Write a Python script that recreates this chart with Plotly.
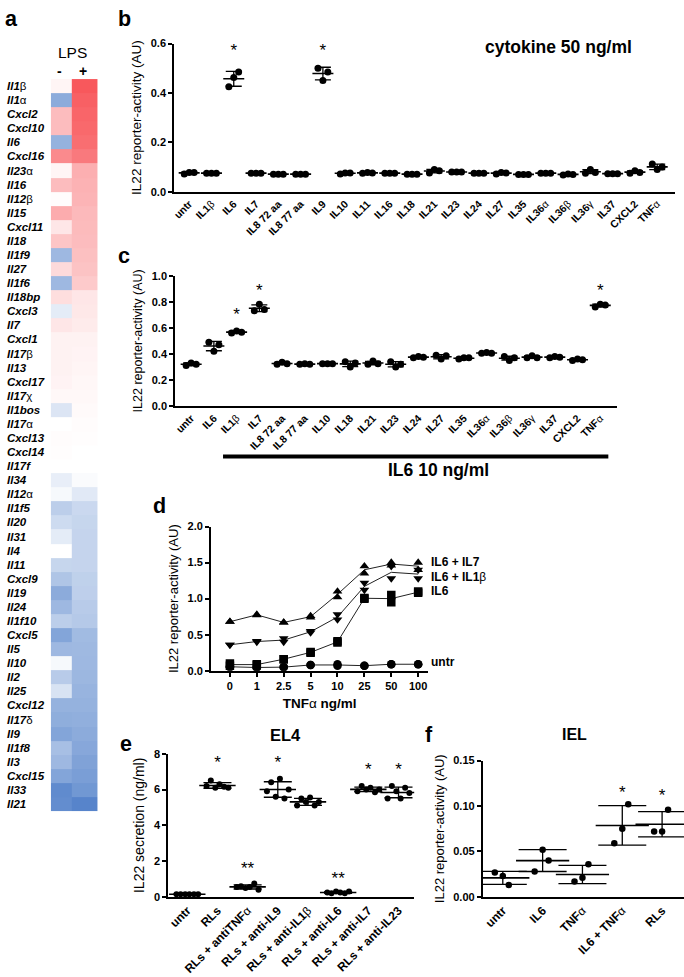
import numpy as np
import plotly.graph_objects as go

W, H = 684, 977
FONT = "Liberation Sans, Arial, sans-serif"

# ---------------- panel a : heatmap ----------------
genes = ["Il1β", "Il1α", "Cxcl2", "Cxcl10", "Il6", "Cxcl16", "Il23α", "Il16", "Il12β", "Il15",
         "Cxcl11", "Il18", "Il1f9", "Il27", "Il1f6", "Il18bp", "Cxcl3", "Il7", "Cxcl1", "Il17β",
         "Il13", "Cxcl17", "Il17χ", "Il1bos", "Il17α", "Cxcl13", "Cxcl14", "Il17f", "Il34", "Il12α",
         "Il1f5", "Il20", "Il31", "Il4", "Il11", "Cxcl9", "Il19", "Il24", "Il1f10", "Cxcl5",
         "Il5", "Il10", "Il2", "Il25", "Cxcl12", "Il17δ", "Il9", "Il1f8", "Il3", "Cxcl15",
         "Il33", "Il21"]
lps_minus = [0.06, -0.65, 0.40, 0.40, -0.60, 0.70, 0.06, 0.40, 0.02, 0.50,
             0.15, 0.35, -0.55, 0.22, -0.55, 0.20, -0.15, 0.15, 0.08, 0.08,
             0.08, 0.07, 0.04, -0.20, 0.00, 0.02, 0.01, 0.00, -0.13, -0.05,
             -0.38, -0.28, -0.15, 0.00, -0.32, -0.45, -0.65, -0.55, -0.38, -0.70,
             -0.55, -0.05, -0.40, -0.22, -0.60, -0.63, -0.70, -0.50, -0.55, -0.70,
             -0.90, -0.88]
lps_plus = [1.00, 0.95, 0.92, 0.90, 0.87, 0.80, 0.48, 0.46, 0.45, 0.42,
            0.41, 0.40, 0.38, 0.36, 0.32, 0.15, 0.14, 0.12, 0.08, 0.07,
            0.06, 0.05, 0.04, 0.03, 0.02, 0.01, 0.00, 0.00, -0.03, -0.17,
            -0.30, -0.32, -0.33, -0.33, -0.33, -0.36, -0.37, -0.40, -0.42, -0.53,
            -0.54, -0.55, -0.56, -0.58, -0.60, -0.62, -0.65, -0.68, -0.72, -0.75,
            -0.80, -0.95]
lps_cols = ["-", "+"]

# ---------------- panel b ----------------
b_cats = ["untr", "IL1β", "IL6", "IL7", "IL8 72 aa", "IL8 77 aa", "IL9", "IL10", "IL11", "IL16",
          "IL18", "IL21", "IL23", "IL24", "IL27", "IL35", "IL36α", "IL36β", "IL36γ", "IL37",
          "CXCL2", "TNFα"]
b_vals = [[0.072, 0.078, 0.078], [0.075, 0.075, 0.075], [0.425, 0.462, 0.485], [0.075, 0.075, 0.075],
          [0.071, 0.071, 0.071], [0.071, 0.071, 0.071], [0.500, 0.450, 0.485], [0.072, 0.076, 0.076],
          [0.075, 0.078, 0.076], [0.075, 0.075, 0.075], [0.071, 0.071, 0.071], [0.076, 0.090, 0.085],
          [0.080, 0.080, 0.080], [0.075, 0.075, 0.075], [0.072, 0.078, 0.076], [0.070, 0.070, 0.070],
          [0.075, 0.075, 0.075], [0.068, 0.072, 0.070], [0.075, 0.090, 0.078], [0.073, 0.073, 0.073],
          [0.075, 0.085, 0.078], [0.112, 0.090, 0.100]]
b_sig = ["IL6", "IL9"]
b_sig_y = [0.568, 0.568]

# ---------------- panel c ----------------
c_cats = ["untr", "IL6", "IL1β", "IL7", "IL8 72 aa", "IL8 77 aa", "IL10", "IL18", "IL21", "IL23",
          "IL24", "IL27", "IL35", "IL36α", "IL36β", "IL36γ", "IL37", "CXCL2", "TNFα"]
c_vals = [[0.31, 0.33, 0.32], [0.49, 0.42, 0.47], [0.56, 0.575, 0.565], [0.73, 0.78, 0.74],
          [0.32, 0.335, 0.325], [0.32, 0.325, 0.32], [0.325, 0.325, 0.325], [0.34, 0.30, 0.33],
          [0.32, 0.345, 0.325], [0.34, 0.30, 0.32], [0.37, 0.38, 0.375], [0.39, 0.36, 0.385],
          [0.36, 0.37, 0.37], [0.405, 0.41, 0.405], [0.38, 0.35, 0.37], [0.37, 0.385, 0.37],
          [0.37, 0.38, 0.375], [0.35, 0.36, 0.355], [0.76, 0.78, 0.775]]
c_sig = ["IL1β", "IL7", "TNFα"]
c_sig_y = [0.689, 0.879, 0.879]

# ---------------- panel d ----------------
d_x = ["0", "1", "2.5", "5", "10", "25", "50", "100"]
d_il7_r1 = [0.68, 0.78, 0.67, 0.76, 1.10, 1.45, 1.50, 1.50]
d_il7_r2 = [0.68, 0.77, 0.67, 0.74, 1.02, 1.35, 1.46, 1.40]
d_il1b_r1 = [0.36, 0.41, 0.45, 0.55, 0.78, 1.22, 1.45, 1.40]
d_il1b_r2 = [0.36, 0.40, 0.40, 0.53, 0.71, 1.12, 1.28, 1.28]
d_il6_r1 = [0.10, 0.09, 0.16, 0.26, 0.41, 1.01, 1.05, 1.10]
d_il6_r2 = [0.07, 0.08, 0.16, 0.25, 0.39, 1.00, 0.95, 1.08]
d_untr_r1 = [0.06, 0.05, 0.05, 0.08, 0.09, 0.07, 0.09, 0.09]
d_untr_r2 = [0.05, 0.04, 0.05, 0.08, 0.07, 0.07, 0.09, 0.09]

# ---------------- panel e ----------------
e_cats = ["untr", "RLs", "RLs + antiTNFα", "RLs + anti-IL9", "RLs + anti-IL1β",
          "RLs + anti-IL6", "RLs + anti-IL7", "RLs + anti-IL23"]
e_vals = [[0.15, 0.15, 0.15, 0.15, 0.15, 0.15],
          [6.2, 6.5, 6.1, 6.3, 6.15, 6.1],
          [0.55, 0.6, 0.5, 0.55, 0.75, 0.4],
          [5.9, 6.4, 5.6, 6.6, 5.5, 6.0],
          [5.1, 5.5, 5.3, 5.55, 5.1, 5.3],
          [0.25, 0.2, 0.3, 0.25, 0.2, 0.3],
          [5.9, 6.2, 6.0, 6.1, 5.85, 6.0],
          [5.5, 6.2, 5.9, 5.5, 6.1, 5.8]]
e_sig = ["RLs", "RLs + anti-IL9", "RLs + anti-IL7", "RLs + anti-IL23", "RLs + antiTNFα", "RLs + anti-IL6"]
e_sig_txt = ["*", "*", "*", "*", "**", "**"]
e_sig_y = [7.45, 7.45, 7.06, 7.06, 1.49, 0.94]

# ---------------- panel f ----------------
f_cats = ["untr", "IL6", "TNFα", "IL6 + TNFα", "RLs"]
f_vals = [[0.027, 0.013, 0.023], [0.028, 0.040, 0.052], [0.017, 0.036, 0.021],
          [0.059, 0.102, 0.075], [0.072, 0.096, 0.072]]
f_sig = ["IL6 + TNFα", "RLs"]
f_sig_y = [0.114, 0.110]


def fmt(s, italic=False):
    greek = "αβγδχ"
    i = len(s)
    while i > 0 and s[i - 1] in greek:
        i -= 1
    base, g = s[:i], s[i:]
    if italic:
        base = "<i>" + base + "</i>"
    return "<b>" + base + "</b>" + g


def dx(a, b):
    return [a / W, b / W]


def dy(top, bottom):
    return [1 - bottom / H, 1 - top / H]


fig = go.Figure()
annotations = []
shapes = []

# heatmap: the two LPS columns are drawn with slightly different widths (px edges 48|69|95)
HM_LEFT, HM_SPLIT, HM_RIGHT = 48, 69, 95
col_edges = [0, HM_SPLIT - HM_LEFT, HM_RIGHT - HM_LEFT]
col_mid = [(col_edges[i] + col_edges[i + 1]) / 2 for i in range(2)]
z = [[m, p] for m, p in zip(lps_minus, lps_plus)]
fig.add_trace(go.Heatmap(
    z=z, x=col_edges, y=genes, zmin=-1, zmax=1, showscale=False,
    colorscale=[[0, "rgb(78,126,200)"], [0.5, "rgb(255,255,255)"], [1, "rgb(248,88,92)"]],
    xaxis="x", yaxis="y", hoverinfo="skip"))
for g in genes:
    annotations.append(dict(x=2 / W, xref="paper", y=g, yref="y", text=fmt(g, italic=True),
                            showarrow=False, xanchor="left", yanchor="middle",
                            font=dict(size=11.5, color="black")))
annotations.append(dict(x=70 / W, y=1 - 47 / H, xref="paper", yref="paper", text="LPS",
                        showarrow=False, xanchor="center", yanchor="middle", borderpad=0,
                        font=dict(size=15.5, color="black")))
for col, xm in zip(lps_cols, col_mid):
    annotations.append(dict(x=xm, xref="x", y=1 - 66 / H, yref="paper", text="<b>" + col + "</b>",
                            showarrow=False, xanchor="center", yanchor="middle", xshift=-2, borderpad=0,
                            font=dict(size=14, color="black")))


def dot_panel(xa, ya, cats, vals, offsets, msize, mean_w, cap_w):
    xs, ys = [], []
    for i, v in enumerate(vals):
        for j, val in enumerate(v):
            xs.append(i + offsets[j])
            ys.append(val)
    means = [float(np.mean(v)) for v in vals]
    sds = [float(np.std(v, ddof=1)) for v in vals]
    fig.add_trace(go.Scatter(
        x=list(range(len(cats))), y=means, mode="markers",
        marker=dict(symbol="line-ew", size=mean_w, color="black", line=dict(width=1.6, color="black")),
        error_y=dict(type="data", array=sds, width=cap_w, thickness=1.3, color="black"),
        xaxis=xa, yaxis=ya, hoverinfo="skip"))
    fig.add_trace(go.Scatter(x=xs, y=ys, mode="markers", marker=dict(color="black", size=msize),
                             xaxis=xa, yaxis=ya, hoverinfo="skip"))


def stars(xa, ya, cats, names, ys, txts=None):
    if txts is None:
        txts = ["*"] * len(names)
    fig.add_trace(go.Scatter(x=[cats.index(n) for n in names], y=ys, text=txts, mode="text",
                             textposition="middle center", textfont=dict(size=17, color="black"),
                             xaxis=xa, yaxis=ya, hoverinfo="skip", cliponaxis=False))


dot_panel("x2", "y2", b_cats, b_vals, [-0.22, 0.0, 0.22], 7, 15, 8)
dot_panel("x3", "y3", c_cats, c_vals, [-0.22, 0.0, 0.22], 7, 15, 8)
dot_panel("x5", "y5", e_cats, e_vals, [-0.36, -0.22, -0.07, 0.07, 0.22, 0.36], 6, 26, 14)
dot_panel("x6", "y6", f_cats, f_vals, [-0.2, 0.15, 0.0], 6.5, 38, 24)
stars("x2", "y2", b_cats, b_sig, b_sig_y)
stars("x3", "y3", c_cats, c_sig, c_sig_y)
stars("x5", "y5", e_cats, e_sig, e_sig_y, e_sig_txt)
stars("x6", "y6", f_cats, f_sig, f_sig_y)

# panel d
d_series = [("triangle-up", d_il7_r1, d_il7_r2), ("triangle-down", d_il1b_r1, d_il1b_r2),
            ("square", d_il6_r1, d_il6_r2), ("circle", d_untr_r1, d_untr_r2)]
xi = list(range(len(d_x)))
for sym, r1, r2 in d_series:
    mean = [(a + b) / 2 for a, b in zip(r1, r2)]
    fig.add_trace(go.Scatter(x=xi, y=mean, mode="lines", line=dict(color="#222", width=1),
                             xaxis="x4", yaxis="y4", hoverinfo="skip"))
    fig.add_trace(go.Scatter(x=xi + xi, y=r1 + r2, mode="markers",
                             marker=dict(symbol=sym, size=8.5, color="black"),
                             xaxis="x4", yaxis="y4", hoverinfo="skip"))

axis_common = dict(showline=True, linecolor="black", linewidth=2, showgrid=False, zeroline=False,
                   tickfont=dict(size=11, color="black", family=FONT, weight="bold"),
                   ticks="outside", ticklen=4, tickwidth=2, tickcolor="black")


def xcat(size):
    return dict(showline=True, linecolor="black", linewidth=2, showgrid=False, zeroline=False,
                tickfont=dict(size=size, color="black", family=FONT), ticks="", tickangle=-45)


def ytitle(size, text="IL22 reporter-activity (AU)"):
    return dict(text=text, font=dict(size=size, color="black"), standoff=6)


layout_axes = dict(
    xaxis=dict(domain=dx(HM_LEFT, HM_RIGHT), range=[col_edges[0], col_edges[-1]], showticklabels=False,
               showline=False, ticks="", showgrid=False, zeroline=False, anchor="y"),
    yaxis=dict(domain=dy(73, 816), autorange="reversed", showticklabels=False, ticks="",
               showgrid=False, showline=False, anchor="x"),
    xaxis2=dict(domain=dx(172, 675), range=[-0.67, 21.8], tickvals=list(range(len(b_cats))),
                ticktext=[fmt(c) for c in b_cats], anchor="y2", **xcat(10.5)),
    yaxis2=dict(domain=dy(38, 188), range=[0, 0.6], dtick=0.2, tickformat=".1f", anchor="x2",
                title=ytitle(13.5), **axis_common),
    xaxis3=dict(domain=dx(173, 617), range=[-0.70, 18.75], tickvals=list(range(len(c_cats))),
                ticktext=[fmt(c) for c in c_cats], anchor="y3", **xcat(10.5)),
    yaxis3=dict(domain=dy(273, 405), range=[0, 1.0], dtick=0.2, tickformat=".1f", anchor="x3",
                title=ytitle(12.5), **axis_common),
    xaxis4=dict(domain=dx(209, 427), range=[-0.70, 7.37], tickvals=xi, ticktext=d_x, anchor="y4",
                title=dict(text="<b>TNF</b>α<b> ng/ml</b>", font=dict(size=13.5, color="black"), standoff=8),
                **axis_common),
    yaxis4=dict(domain=dy(527, 673), range=[0, 2.0], dtick=0.5, tickformat=".1f", anchor="x4",
                title=ytitle(13), **axis_common),
    xaxis5=dict(domain=dx(166, 413), range=[-0.63, 7.52], tickvals=list(range(len(e_cats))),
                ticktext=[fmt(c) for c in e_cats], anchor="y5", **xcat(12)),
    yaxis5=dict(domain=dy(757, 902), range=[0, 8], dtick=2, anchor="x5",
                title=ytitle(14, "IL22 secretion (ng/ml)"), **axis_common),
    xaxis6=dict(domain=dx(482, 684), range=[-0.5, 4.55], tickvals=list(range(len(f_cats))),
                ticktext=[fmt(c) for c in f_cats], anchor="y6", **xcat(12)),
    yaxis6=dict(domain=dy(764, 902), range=[0, 0.15], dtick=0.05, tickformat=".2f", anchor="x6",
                title=ytitle(13), **axis_common),
)

# panel d series labels
for txt, yv in [("<b>IL6 + IL7</b>", 1.51), ("<b>IL6 + IL1</b>β", 1.30), ("<b>IL6</b>", 1.10), ("<b>untr</b>", 0.12)]:
    annotations.append(dict(x=428 / W, xref="paper", y=yv, yref="y4", text=txt, showarrow=False,
                            xanchor="left", yanchor="middle", font=dict(size=12, color="black")))

# panel letters and titles
for letter, px, py in [("a", 9, 13), ("b", 122, 13), ("c", 122, 253), ("d", 157, 506), ("e", 124, 747), ("f", 428, 738)]:
    annotations.append(dict(x=px / W, y=1 - py / H, xref="paper", yref="paper", text="<b>" + letter + "</b>",
                            showarrow=False, xanchor="center", yanchor="middle",
                            font=dict(size=21.5, color="black")))
for txt, px, py, sz in [("<b>cytokine 50 ng/ml</b>", 558, 42, 17.5), ("<b>IL6 10 ng/ml</b>", 437, 470, 17.5),
                        ("<b>EL4</b>", 284, 738, 16.5), ("<b>IEL</b>", 574, 738, 16)]:
    annotations.append(dict(x=px / W, y=1 - py / H, xref="paper", yref="paper", text=txt,
                            showarrow=False, xanchor="center", yanchor="middle",
                            font=dict(size=sz, color="black")))

shapes.append(dict(type="line", xref="paper", yref="paper", x0=221 / W, x1=608 / W,
                   y0=1 - 456 / H, y1=1 - 456 / H, line=dict(color="black", width=4)))

fig.update_layout(
    width=W, height=H, autosize=False, margin=dict(l=0, r=0, t=0, b=0),
    paper_bgcolor="white", plot_bgcolor="white", showlegend=False,
    font=dict(family=FONT, color="black"),
    annotations=annotations, shapes=shapes, **layout_axes)

fig.write_html("out.html", config={"displayModeBar": False},
               post_script="document.body.style.margin='0';document.documentElement.style.overflow='hidden';")
